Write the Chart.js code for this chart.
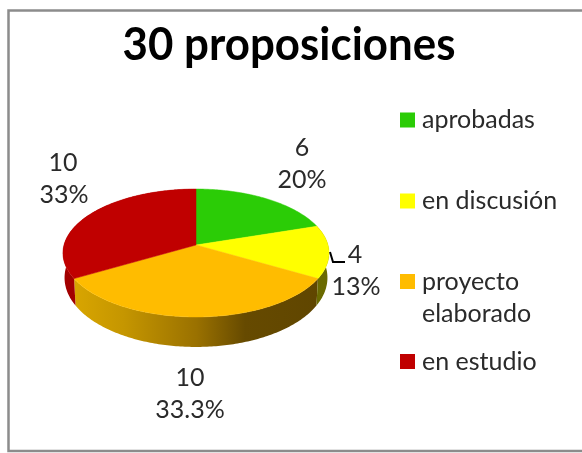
<!DOCTYPE html>
<html>
<head>
<meta charset="utf-8">
<style>
html,body{margin:0;padding:0;background:#fff;overflow:hidden}
#wrap{position:absolute;left:0;top:0;width:582px;height:453px}
canvas{display:block;filter:blur(0.45px)}
</style>
<script src="https://cdn.jsdelivr.net/npm/chart.js@4/dist/chart.umd.js"></script>
</head>
<body>
<div id="wrap"><canvas id="c" width="582" height="453"></canvas></div>
<script>
const chartTitle = '30 proposiciones';
const categories = ['aprobadas', 'en discusión', 'proyecto elaborado', 'en estudio'];
const legendLines = [['aprobadas'], ['en discusión'], ['proyecto', 'elaborado'], ['en estudio']];
const values = [6, 4, 10, 10];
const countLabels = ['6', '4', '10', '10'];
const percentLabels = ['20%', '13%', '33.3%', '33%'];
const colors = ['#2BCC06', '#FFFF00', '#FFBC00', '#C00000'];

// Layout and styling (not data)
const labelAnchors = [[302, 148, 302, 180], [355, 255, 356, 287], [190, 378, 190, 410], [63, 163, 64, 195]];
const legendRows = [120, 201, 281.5, 361.5];
const wallStops = [
  [[0, '#3a8a10'], [1, '#1e6a04']],
  [[0, '#737300'], [1, '#6a6a00']],
  [[0, '#d8a500'], [0.20, '#c59600'], [0.50, '#9a7100'], [0.70, '#664a00'], [1, '#604600']],
  [[0, '#a20000'], [1, '#a80000']]
];
const TILT = 0.477, PERSP = -0.125;
const FONT = 'Lato, "Open Sans", sans-serif';
const TEXT = '#2a2a2a';

// Projects a point of the flat pie into the tilted view.
function project(el, angle, drop) {
  const u = Math.cos(angle), v = Math.sin(angle);
  const w = 1 + PERSP * v;
  const R = el.outerRadius;
  const shrink = drop ? 0.988 : 1;
  return {
    x: el.x + R * shrink * u / w,
    y: el.y + R * TILT * v / w + (drop ? (24 + 6 * v) : 0),
    u, v
  };
}

function rimPoints(el, a0, a1, drop) {
  const pts = [];
  const n = Math.max(2, Math.ceil(Math.abs(a1 - a0) / 0.015));
  for (let i = 0; i <= n; i++) pts.push(project(el, a0 + (a1 - a0) * i / n, drop));
  return pts;
}

// Tilted slice face, drawn from the arc element's own angles.
Chart.ArcElement.prototype.draw = function (ctx) {
  const el = this;
  const pts = rimPoints(el, el.startAngle, el.endAngle, false);
  ctx.save();
  ctx.beginPath();
  ctx.moveTo(el.x, el.y);
  pts.forEach(p => ctx.lineTo(p.x, p.y));
  ctx.closePath();
  ctx.fillStyle = el.options.backgroundColor;
  ctx.strokeStyle = el.options.backgroundColor;
  ctx.lineWidth = 0.5;
  ctx.fill();
  ctx.stroke();
  ctx.restore();
};

const wallsPlugin = {
  id: 'walls',
  beforeDatasetsDraw(chart) {
    const ctx = chart.ctx;
    const arcs = chart.getDatasetMeta(0).data;
    const first = arcs[0];
    const xL = first.x - first.outerRadius, xR = first.x + first.outerRadius;
    [2, 1, 3].forEach(i => {
      const el = arcs[i];
      const top = rimPoints(el, el.startAngle, el.endAngle, false);
      const low = rimPoints(el, el.startAngle, el.endAngle, true).reverse();
      const g = ctx.createLinearGradient(i === 2 ? el.x - 121 : xL, 0, i === 2 ? el.x + 122 : xR, 0);
      const stops = wallStops[i];
      stops.forEach(s => g.addColorStop(s[0], s[1]));
      ctx.save();
      ctx.beginPath();
      top.concat(low).forEach((p, k) => k ? ctx.lineTo(p.x, p.y) : ctx.moveTo(p.x, p.y));
      ctx.closePath();
      ctx.fillStyle = g;
      ctx.fill();
      ctx.restore();
    });
  }
};

const decorPlugin = {
  id: 'decor',
  beforeDraw(chart) {
    const ctx = chart.ctx;
    ctx.save();
    ctx.fillStyle = '#ffffff';
    ctx.fillRect(0, 0, chart.width, chart.height);
    ctx.strokeStyle = '#8c8c8c';
    ctx.lineWidth = 2.5;
    ctx.beginPath();
    ctx.moveTo(chart.width + 2, 10.5);
    ctx.lineTo(8.5, 10.5);
    ctx.lineTo(8.5, 451);
    ctx.lineTo(chart.width + 2, 451);
    ctx.stroke();
    ctx.restore();
  },
  afterDraw(chart) {
    const ctx = chart.ctx;
    ctx.save();
    ctx.textBaseline = 'middle';
    // title
    ctx.fillStyle = '#000';
    ctx.textAlign = 'center';
    ctx.font = 'bold 45px ' + FONT;
    ctx.save();
    ctx.translate(289, 45);
    ctx.scale(0.975, 1);
    ctx.fillText(chartTitle, 0, 0);
    ctx.restore();
    // data labels
    ctx.font = '25px ' + FONT;
    ctx.fillStyle = TEXT;
    labelAnchors.forEach((a, i) => {
      ctx.fillText(countLabels[i], a[0], a[1]);
      ctx.fillText(percentLabels[i], a[2], a[3]);
    });
    // leader line of the yellow slice
    ctx.strokeStyle = '#000';
    ctx.lineWidth = 2;
    ctx.beginPath();
    ctx.moveTo(330, 252);
    ctx.lineTo(333, 262);
    ctx.lineTo(345, 262);
    ctx.stroke();
    // legend
    ctx.textAlign = 'left';
    legendLines.forEach((lines, i) => {
      const y = legendRows[i];
      ctx.fillStyle = colors[i];
      ctx.fillRect(400, y - 7.5, 15, 15);
      ctx.fillStyle = TEXT;
      lines.forEach((t, k) => ctx.fillText(t, 422, y + k * 32));
    });
    ctx.restore();
  }
};

new Chart(document.getElementById('c'), {
  type: 'pie',
  data: {
    labels: categories,
    datasets: [{ data: values, backgroundColor: colors, borderWidth: 0 }]
  },
  plugins: [wallsPlugin, decorPlugin],
  options: {
    responsive: false,
    animation: false,
    layout: { padding: { left: 64, right: 254, top: 113, bottom: 76 } },
    plugins: {
      legend: { display: false },
      title: { display: false },
      tooltip: { enabled: false }
    }
  }
});
</script>
</body>
</html>
